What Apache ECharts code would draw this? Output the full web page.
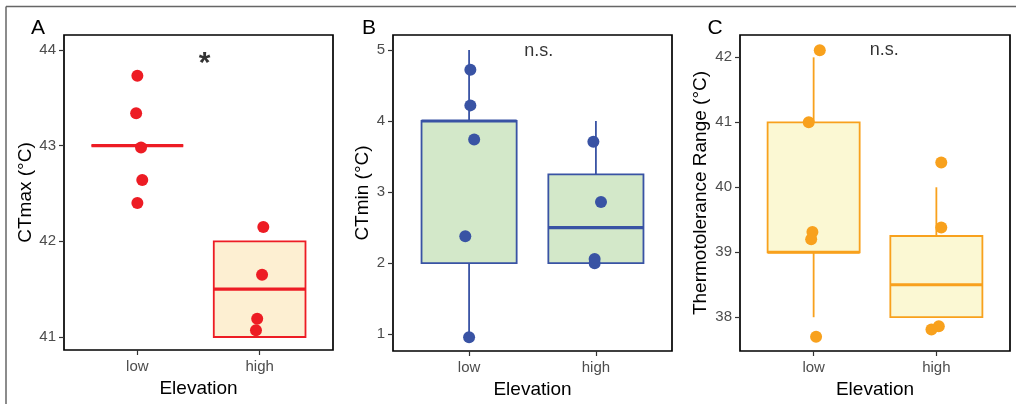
<!DOCTYPE html>
<html>
<head>
<meta charset="utf-8">
<script src="https://cdn.jsdelivr.net/npm/echarts@6/dist/echarts.min.js"></script>
<style>
  html, body { margin: 0; background: #fff; }
  #chart { width: 1016px; height: 404px; }
</style>
</head>
<body>
<div id="chart"></div>
<script>
var FONT = 'Liberation Sans, Arial, sans-serif'
var groups = ['low', 'high']

// A: CTmax, points + small x jitter
var ctmaxLow = [43.73, 43.34, 42.98, 42.64, 42.40]
var ctmaxLowJit = [0.0, -0.01, 0.03, 0.04, 0.0]
var ctmaxHigh = [42.15, 41.65, 41.19, 41.07]
var ctmaxHighJit = [0.03, 0.02, -0.02, -0.03]
// box stats per group: lower whisker, q1, median, q3, upper whisker
var ctmaxBoxLow = [43, 43, 43, 43, 43]
var ctmaxBoxHigh = [41, 41, 41.5, 42, 42]

// B: CTmin
var ctminLow = [4.72, 4.22, 3.74, 2.38, 0.96]
var ctminLowJit = [0.01, 0.01, 0.04, -0.03, 0.0]
var ctminHigh = [3.71, 2.86, 2.06, 2.0]
var ctminHighJit = [-0.02, 0.04, -0.01, -0.01]
var ctminBoxLow = [1, 2, 4, 4, 5]
var ctminBoxHigh = [2, 2, 2.5, 3.25, 4]

// C: thermotolerance range
var rangeLow = [42.11, 41.0, 39.31, 39.2, 37.7]
var rangeLowJit = [0.05, -0.04, -0.01, -0.02, 0.02]
var rangeHigh = [40.38, 39.38, 37.86, 37.81]
var rangeHighJit = [0.04, 0.04, 0.02, -0.04]
var rangeBoxLow = [38, 39, 39, 41, 42]
var rangeBoxHigh = [38, 38, 38.5, 39.25, 40]

var panels = [
  { letter: 'A', yName: 'CTmax (°C)', nameGap: 24, ticks: [41, 42, 43, 44], min: 40.864, max: 44.157,
    low: ctmaxLow, lowJit: ctmaxLowJit, high: ctmaxHigh, highJit: ctmaxHighJit,
    boxLow: ctmaxBoxLow, boxHigh: ctmaxBoxHigh,
    note: '*', noteX: 1.55, noteY: 43.86, noteSize: 30, noteWeight: 'bold',
    color: '#ed1c24', fill: '#fdefd2', grid: { left: 64, top: 35, width: 269, height: 315 }, letterX: 38 },
  { letter: 'B', yName: 'CTmin (°C)', nameGap: 21, ticks: [1, 2, 3, 4, 5], min: 0.765, max: 5.21,
    low: ctminLow, lowJit: ctminLowJit, high: ctminHigh, highJit: ctminHighJit,
    boxLow: ctminBoxLow, boxHigh: ctminBoxHigh,
    note: 'n.s.', noteX: 1.55, noteY: 4.99, noteSize: 18, noteWeight: 'normal',
    color: '#3953a4', fill: '#d3e8c9', grid: { left: 393, top: 35, width: 279, height: 316 }, letterX: 369 },
  { letter: 'C', yName: 'Thermotolerance Range (°C)', nameGap: 30, ticks: [38, 39, 40, 41, 42], min: 37.48, max: 42.344,
    low: rangeLow, lowJit: rangeLowJit, high: rangeHigh, highJit: rangeHighJit,
    boxLow: rangeBoxLow, boxHigh: rangeBoxHigh,
    note: 'n.s.', noteX: 1.575, noteY: 42.105, noteSize: 18, noteWeight: 'normal',
    color: '#f8a11d', fill: '#fbf8d3', grid: { left: 740, top: 35, width: 270, height: 316 }, letterX: 715 }
]

function boxRenderer(color, fill) {
  return function(params, api) {
    var x = api.value(0)
    var lo = api.coord([x, api.value(1)])
    var q1 = api.coord([x, api.value(2)])
    var md = api.coord([x, api.value(3)])
    var q3 = api.coord([x, api.value(4)])
    var hi = api.coord([x, api.value(5)])
    var half = api.size([0.375, 0])[0]
    var cx = q1[0]
    return {
      type: 'group',
      children: [
        { type: 'line', shape: { x1: cx, y1: lo[1], x2: cx, y2: q1[1] }, style: { stroke: color, lineWidth: 1.8 } },
        { type: 'line', shape: { x1: cx, y1: q3[1], x2: cx, y2: hi[1] }, style: { stroke: color, lineWidth: 1.8 } },
        { type: 'rect', shape: { x: cx - half, y: q3[1], width: half * 2, height: q1[1] - q3[1] },
          style: { fill: fill, stroke: color, lineWidth: 1.8 } },
        { type: 'line', shape: { x1: cx - half, y1: md[1], x2: cx + half, y2: md[1] }, style: { stroke: color, lineWidth: 3.2 } }
      ]
    }
  }
}

function jittered(vals, jit, x) {
  return vals.map(function(v, i) { return [x + jit[i], v] })
}

var grids = []
var xAxes = []
var yAxes = []
var series = []
var graphics = [
  // outer figure frame (only top and left edges show)
  { type: 'line', shape: { x1: 6, y1: 6.5, x2: 1016, y2: 6.5 }, style: { stroke: '#666', lineWidth: 1.5 } },
  { type: 'line', shape: { x1: 6, y1: 6.5, x2: 6, y2: 404 }, style: { stroke: '#666', lineWidth: 1.5 } }
]

panels.forEach(function(p, i) {
  grids.push(Object.assign({ show: true, borderColor: '#000', borderWidth: 1.7, backgroundColor: 'transparent',
    containLabel: false, outerBoundsMode: 'none' }, p.grid))
  xAxes.push({
    gridIndex: i, type: 'value', min: 0.4, max: 2.6,
    name: 'Elevation', nameLocation: 'middle', nameGap: 27,
    nameTextStyle: { color: '#000', fontSize: 19, fontFamily: FONT },
    axisLine: { show: false }, splitLine: { show: false },
    axisTick: { show: true, length: 5, customValues: [1, 2], lineStyle: { color: '#333', width: 1.2 } },
    axisLabel: { customValues: [1, 2], color: '#4d4d4d', fontSize: 15, margin: 9, fontFamily: FONT,
      formatter: function(v) { return groups[Math.round(v) - 1] } }
  })
  yAxes.push({
    gridIndex: i, type: 'value', min: p.min, max: p.max,
    name: p.yName, nameLocation: 'middle', nameGap: p.nameGap,
    nameTextStyle: { color: '#000', fontSize: 19, fontFamily: FONT },
    axisLine: { show: false }, splitLine: { show: false },
    axisTick: { show: true, length: 5, customValues: p.ticks, lineStyle: { color: '#333', width: 1.2 } },
    axisLabel: { customValues: p.ticks, color: '#4d4d4d', fontSize: 15, margin: 8, fontFamily: FONT }
  })
  series.push({
    type: 'custom', xAxisIndex: i, yAxisIndex: i, silent: true,
    renderItem: boxRenderer(p.color, p.fill),
    encode: { x: 0, y: [1, 2, 3, 4, 5] },
    data: [[1].concat(p.boxLow), [2].concat(p.boxHigh)]
  })
  series.push({
    type: 'scatter', xAxisIndex: i, yAxisIndex: i, silent: true, z: 5,
    symbolSize: 12, itemStyle: { color: p.color, opacity: 1 },
    data: jittered(p.low, p.lowJit, 1).concat(jittered(p.high, p.highJit, 2))
  })
  series.push({
    type: 'scatter', xAxisIndex: i, yAxisIndex: i, silent: true, symbolSize: 0,
    label: { show: true, position: 'inside', formatter: p.note, color: '#000',
      fontSize: p.noteSize, fontWeight: p.noteWeight, fontFamily: FONT },
    data: [[p.noteX, p.noteY]]
  })
  graphics.push({ type: 'text', x: p.letterX, y: 28,
    style: { text: p.letter, fill: '#000', font: '21px ' + FONT, textAlign: 'center', textVerticalAlign: 'middle' } })
})

var chart = echarts.init(document.getElementById('chart'))
chart.setOption({
  animation: false,
  backgroundColor: '#fff',
  grid: grids,
  xAxis: xAxes,
  yAxis: yAxes,
  series: series,
  graphic: graphics
})
</script>
</body>
</html>
